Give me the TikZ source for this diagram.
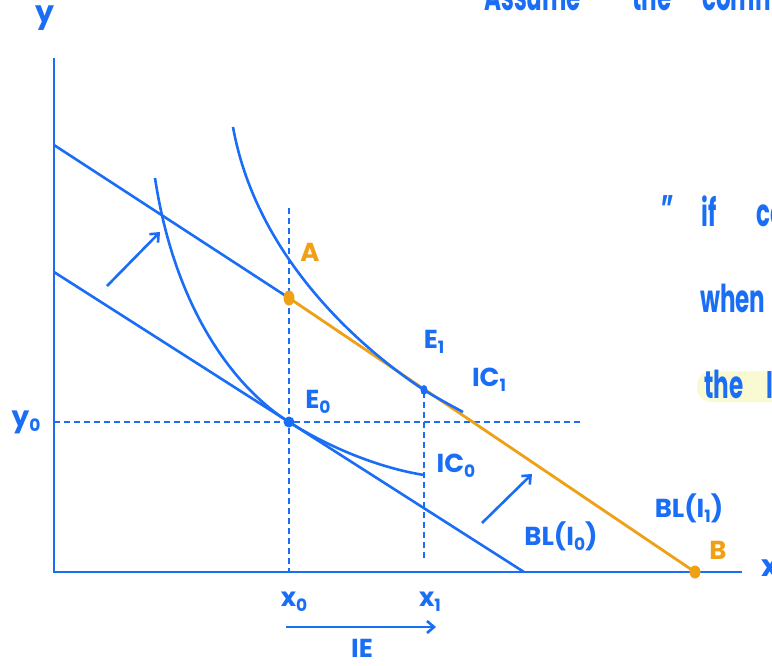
\documentclass[tikz,border=0pt]{standalone}
\usepackage{fontspec}
\setmainfont{Poppins}
\usetikzlibrary{arrows.meta}
\definecolor{pen}{HTML}{1A6EF5}
\definecolor{hl}{HTML}{F0A015}
\definecolor{hiyel}{HTML}{FAFAD2}
\newcommand{\sbs}[1]{\raisebox{-0.35ex}{\fontsize{17}{17}\selectfont #1}}
\newcommand{\bigt}[1]{\scalebox{0.72}[1.2]{#1}}
\begin{document}
\begin{tikzpicture}[x=1pt,y=-1pt,
  pline/.style={draw=pen,line width=2.6pt},
  oline/.style={draw=hl,line width=2.8pt},
  dline/.style={draw=pen,line width=2.2pt,dash pattern=on 6pt off 4pt},
  arr/.style={draw=pen,line width=2.6pt,-{Straight Barb[length=7pt,width=12pt]}},
  lab/.style={text=pen,font=\fontsize{26}{27}\selectfont\bfseries,inner sep=0pt},
  olab/.style={text=hl,font=\fontsize{26}{27}\selectfont\bfseries,inner sep=0pt},
  big/.style={text=pen,font=\fontsize{32}{34}\selectfont\bfseries,inner sep=0pt,anchor=base west}]
\clip (0,0) rectangle (772,665);
\fill[white] (0,0) rectangle (772,665);
% coordinates
\coordinate (O) at (54,572);
\coordinate (ytop) at (54,58);
\coordinate (xend) at (742,572);
\coordinate (Y1) at (54,145);
\coordinate (Y0) at (54,272);
\coordinate (A) at (289,298);
\coordinate (B) at (695,572);
\coordinate (X0b) at (524,572);
\coordinate (E0) at (289,422);
\coordinate (E1) at (424,390);
\coordinate (y0l) at (54,422);
\coordinate (y0r) at (582,422);
\coordinate (x0t) at (289,208);
\coordinate (x0b) at (289,572);
\coordinate (x1t) at (424,392);
\coordinate (x1b) at (424,558);
% highlight
\fill[hiyel, rounded corners=14pt] (697,371) rectangle (790,402);
% dashed guides
\draw[dline] (y0l) -- (y0r);
\draw[dline] (x0t) -- (x0b);
\draw[dline] (x1t) -- (x1b);
% axes
\draw[pline] (ytop) -- (O) -- (xend);
% budget lines
\draw[pline] (Y0) -- (X0b);
\draw[pline] (Y1) -- (A);
\draw[oline] (A) -- (B);
% indifference curves
\draw[pline] (155,178) .. controls (175,310) and (235,388) .. (E0)
  .. controls (330,448) and (380,468) .. (424,475);
\draw[pline] (233,127) .. controls (255,250) and (350,341) .. (E1)
  .. controls (437,398) and (450,405) .. (463,412);
% points
\fill[hl] (A) ellipse (5.5pt and 7.5pt);
\fill[hl] (B) ellipse (5.5pt and 6.5pt);
\fill[pen] (E0) circle (5.5pt);
\fill[pen] (E1) ellipse (3.5pt and 5pt);
% shift arrows
\coordinate (a1s) at (107,286); \coordinate (a1e) at (160,232);
\coordinate (a2s) at (482,523); \coordinate (a2e) at (532,474);
\coordinate (ies) at (286,627); \coordinate (iee) at (436,627);
\draw[arr] (a1s) -- (a1e);
\draw[arr] (a2s) -- (a2e);
\draw[arr] (ies) -- (iee);
% labels
\node[lab,font=\fontsize{30}{30}\selectfont\bfseries] (ylab) at (45,18) {y};
\node[lab,font=\fontsize{30}{30}\selectfont\bfseries] (xlab) at (770,568) {x};
\node[lab,font=\fontsize{28}{28}\selectfont\bfseries] (y0lab) at (26,422) {y\sbs{0}};
\node[olab] (Alab) at (310,252) {A};
\node[olab] (Blab) at (718,550) {B};
\node[lab] (E1lab) at (434,342) {E\sbs{1}};
\node[lab] (IC1lab) at (489,380) {IC\sbs{1}};
\node[lab] (E0lab) at (318,402) {E\sbs{0}};
\node[lab] (IC0lab) at (456,466) {IC\sbs{0}};
\node[lab] (BL1lab) at (689,508) {BL(I\sbs{1})};
\node[lab] (BL0lab) at (561,536) {BL(I\sbs{0})};
\node[lab] (x0lab) at (294,602) {x\sbs{0}};
\node[lab] (x1lab) at (430,602) {x\sbs{1}};
\node[lab] (IElab) at (362,648) {IE};
% right-side notes
\node[big] (t0a) at (484,10) {\bigt{Assume}};
\node[big] (t0b) at (632,10) {\bigt{the}};
\node[big] (t0c) at (702,10) {\bigt{comm}};
\node[big] (t1) at (661,222) {\bigt{''}};
\node[big] (t2) at (701,226) {\bigt{if}};
\node[big] (t2b) at (756,226) {\bigt{co}};
\node[big] (t3) at (700,312) {\bigt{when}};
\node[big] (t4) at (704,398) {\bigt{the}};
\node[big] (t4b) at (766,398) {\bigt{I}};
\end{tikzpicture}
\end{document}
